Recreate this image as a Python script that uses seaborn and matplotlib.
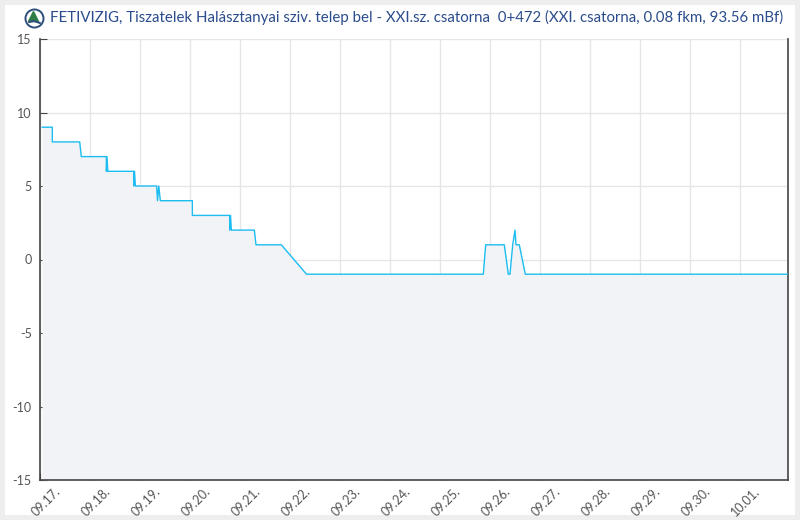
import seaborn as sns
import pandas as pd
import matplotlib.pyplot as plt
import matplotlib.dates as mdates
from matplotlib.patches import Rectangle
from matplotlib.transforms import ScaledTranslation

# time in days since 09.17. 00:00, water level values
days = [0.04, 0.246, 0.246, 0.794, 0.826, 1.326, 1.328, 1.34, 1.356,
        1.873, 1.875, 1.89, 1.907, 2.333, 2.35, 2.375, 2.407,
        3.047, 3.047, 3.793, 3.795, 3.81, 3.827, 4.287, 4.32, 4.826, 5.33,
        8.866, 8.914, 9.286, 9.366, 9.40, 9.454, 9.50, 9.52, 9.586, 9.706, 14.98]
level = [9, 9, 8, 8, 7, 7, 6, 7, 6,
         6, 5, 6, 5, 5, 4, 5, 4,
         4, 3, 3, 2, 3, 2, 2, 1, 1, -1,
         -1, 1, 1, -1, -1, 1, 2, 1, 1, -1, -1]
title = ("FETIVIZIG, Tiszatelek Halásztanyai sziv. telep bel - XXI.sz. csatorna  "
         "0+472 (XXI. csatorna, 0.08 fkm, 93.56 mBf)")

start = pd.Timestamp('2024-09-17')
df = pd.DataFrame({'time': [start + pd.Timedelta(days=d) for d in days],
                   'level': level})

sns.set_style('white')
plt.rcParams['font.family'] = ['Lato', 'DejaVu Sans']
plt.rcParams['axes.unicode_minus'] = False
fig = plt.figure(figsize=(8, 5.2), dpi=100, facecolor='#eeeeee')
fig.add_artist(Rectangle((5 / 800, 5 / 520), 790 / 800, 510 / 520,
                         transform=fig.transFigure, facecolor='white',
                         edgecolor='none', zorder=-10))
ax = fig.add_axes([40 / 800, 40 / 520, 748 / 800, 441 / 520])
ax.set_facecolor('white')

ax.fill_between(df['time'], df['level'], -15, color='#f2f3f7', lw=0, zorder=1)
sns.lineplot(data=df, x='time', y='level', ax=ax, estimator=None, sort=False,
             color='#1cbdf0', lw=1.0, zorder=3)

ax.set_xlim(start, start + pd.Timedelta(days=14.96))
ax.set_ylim(-15, 15)
ax.set_yticks([-15, -10, -5, 0, 5, 10, 15])
ax.xaxis.set_major_locator(mdates.DayLocator())
ax.xaxis.set_major_formatter(mdates.DateFormatter('%m.%d.'))
ax.grid(True, color='#e6e6e9', lw=1, zorder=0)
ax.set_axisbelow(True)
ax.set_xlabel('')
ax.set_ylabel('')

for side in ['left', 'bottom', 'right']:
    ax.spines[side].set_color('#444444')
    ax.spines[side].set_linewidth(1.2)
ax.spines['top'].set_visible(False)
ax.tick_params(axis='both', direction='in', length=5, color='#444444',
               labelsize=9, labelcolor='#555555')
ax.tick_params(axis='y', left=True, right=False, pad=6)
ax.tick_params(axis='x', bottom=True, pad=3.5)
shift = ScaledTranslation(6 / 100, 0, fig.dpi_scale_trans)
for lab in ax.get_xticklabels():
    lab.set_rotation(45)
    lab.set_ha('center')
    lab.set_va('top')
    lab.set_transform(lab.get_transform() + shift)

# logo + title
fig.add_artist(plt.Line2D([34 / 800], [1 - 18 / 520], marker='o', markersize=13,
                          markerfacecolor='white', markeredgecolor='#2f4f7a',
                          markeredgewidth=1.4, transform=fig.transFigure))
fig.add_artist(plt.Line2D([33 / 800], [1 - 16 / 520], marker='^', markersize=7,
                          color='#2e7d46', transform=fig.transFigure))
fig.add_artist(plt.Line2D([29 / 800, 34 / 800, 40 / 800],
                          [1 - 22 / 520, 1 - 21 / 520, 1 - 23 / 520],
                          color='#2f4f7a', lw=1.5, transform=fig.transFigure))
fig.text(50 / 800, 1 - 17 / 520, title, color='#2b4c8c', fontsize=10.8,
         family='Lato', va='center', ha='left')

fig.savefig('out.png', dpi=100, facecolor=fig.get_facecolor())
